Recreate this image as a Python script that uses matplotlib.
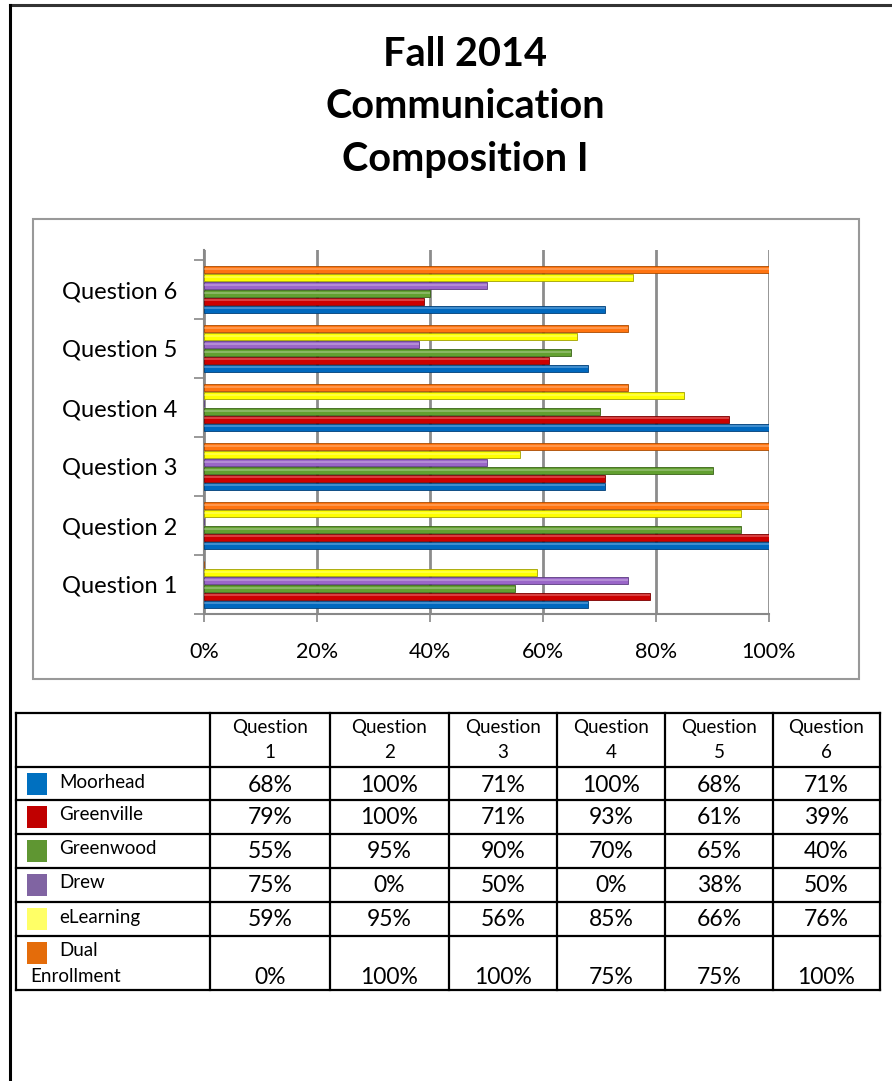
import matplotlib.pyplot as plt
import numpy as np
from matplotlib.patches import Rectangle

plt.rcParams['font.family'] = ['Lato', 'DejaVu Sans']

# data
questions = ["Question 1", "Question 2", "Question 3", "Question 4", "Question 5", "Question 6"]
schools = ["Moorhead", "Greenville", "Greenwood", "Drew", "eLearning", "Dual Enrollment"]
moorhead = [68, 100, 71, 100, 68, 71]
greenville = [79, 100, 71, 93, 61, 39]
greenwood = [55, 95, 90, 70, 65, 40]
drew = [75, 0, 50, 0, 38, 50]
elearning = [59, 95, 56, 85, 66, 76]
dual = [0, 100, 100, 75, 75, 100]
values = [moorhead, greenville, greenwood, drew, elearning, dual]

bar_colors = ["#0068BE", "#CC0000", "#62A030", "#9A66C8", "#FFFF00", "#FF7410"]
edge_colors = ["#003F78", "#7A0000", "#3A6418", "#5C3C80", "#A0A000", "#A84A00"]
key_colors = ["#0070C0", "#C00000", "#5F9632", "#8064A2", "#FFFF66", "#E46C0A"]

W, H = 892, 1081
fig = plt.figure(figsize=(W / 100, H / 100), dpi=100)

# page overlay in pixel coordinates
page = fig.add_axes([0, 0, 1, 1])
page.set_xlim(0, W)
page.set_ylim(H, 0)
page.axis("off")

# outer border of the page
page.plot([10, W], [5, 5], color="#333333", lw=2.2)
page.plot([10, 10], [5, H], color="black", lw=2.2)

# title
for txt, y in zip(["Fall 2014", "Communication", "Composition I"], [54, 106, 159]):
    page.text(465, y, txt, ha="center", va="center", fontsize=28.5, fontweight="bold")

# chart frame
page.add_patch(Rectangle((33, 219), 826, 460, fill=False, ec="#999999", lw=1.5))

# bar chart
ax = fig.add_axes([204 / W, 1 - 614 / H, 565 / W, 364 / H])
n = len(schools)
bh = 0.135
y = np.arange(len(questions))
for k in range(n):
    off = (k - (n - 1) / 2) * bh
    ax.barh(y + off, values[k], height=bh * 0.95, color=bar_colors[k],
            edgecolor=edge_colors[k], linewidth=0.6, zorder=3)
    # light highlight strip for the glossy look
    ax.barh(y + off + bh * 0.12, values[k], height=bh * 0.25, color="white",
            alpha=0.25, linewidth=0, zorder=4)

ax.set_xlim(0, 100)
ax.set_ylim(-0.5, 5.5 + 10 / 59)
ax.set_xticks(np.arange(0, 101, 20))
ax.set_xticklabels([f"{v}%" for v in range(0, 101, 20)], fontsize=15.5)
ax.set_yticks(np.arange(-0.5, 5.6, 1.0))
ax.set_yticklabels([])
ax.set_yticks(y, minor=True)
ax.set_yticklabels(questions, minor=True, fontsize=17)
ax.tick_params(axis="y", which="minor", length=0, pad=19)
ax.tick_params(axis="y", which="major", length=7, color="#888888", width=1.2)
ax.tick_params(axis="x", length=6, color="#888888", width=1.2, pad=14)
ax.grid(axis="x", color="#8C8C8C", lw=2, zorder=1)
for s in ["top", "right"]:
    ax.spines[s].set_visible(False)
for s in ["left", "bottom"]:
    ax.spines[s].set_color("#888888")
    ax.spines[s].set_linewidth(1.5)

# data table
col_x = [16, 210, 330, 449, 557, 665, 773, 880]
row_y = [713, 767, 800, 834, 868, 902, 936, 990]
for xx in col_x:
    page.plot([xx, xx], [row_y[0], row_y[-1]], color="black", lw=1.6)
for yy in row_y:
    page.plot([col_x[0], col_x[-1]], [yy, yy], color="black", lw=1.6)

for j, q in enumerate(questions):
    cx = (col_x[j + 1] + col_x[j + 2]) / 2
    word, num = q.split()
    page.text(cx, 727, word, ha="center", va="center", fontsize=13.5)
    page.text(cx, 753, num, ha="center", va="center", fontsize=13.5)

for i, name in enumerate(schools):
    top = row_y[i + 1]
    page.add_patch(Rectangle((27, top + 6), 20, 22, color=key_colors[i], lw=0))
    if name == "Dual Enrollment":
        page.text(59, top + 15, "Dual", ha="left", va="center", fontsize=13.5)
        page.text(30, top + 41, "Enrollment", ha="left", va="center", fontsize=13.5)
        vy = top + 41
    else:
        page.text(59, top + 15, name, ha="left", va="center", fontsize=13.5)
        vy = top + 18
    for j in range(len(questions)):
        cx = (col_x[j + 1] + col_x[j + 2]) / 2
        page.text(cx, vy, f"{values[i][j]}%", ha="center", va="center", fontsize=16.5)

fig.savefig("out.png", dpi=100)
